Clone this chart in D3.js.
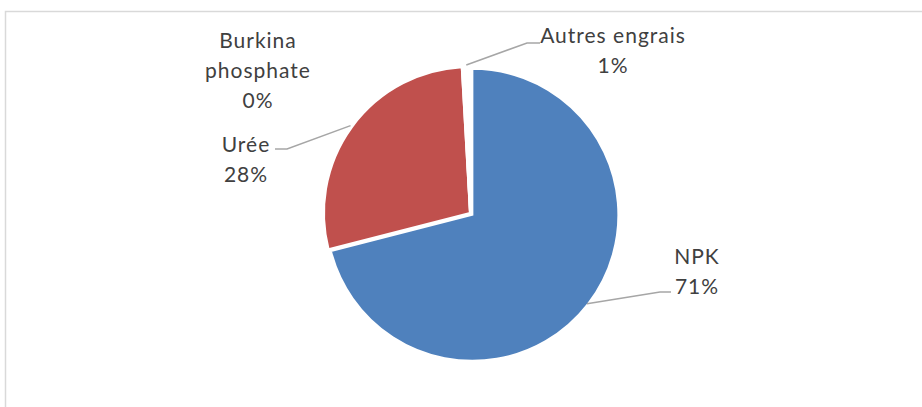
<!DOCTYPE html>
<html>
<head>
<meta charset="utf-8">
<script src="https://cdn.jsdelivr.net/npm/d3@7"></script>
<style>
  body { margin: 0; background: #fff; }
  text { font-family: Lato, "Open Sans", sans-serif; fill: #404040; }
</style>
</head>
<body>
<div id="chart"></div>
<script>
const width = 922, height = 407;

// data (shares in %)
const categories = ["NPK", "Urée", "Burkina phosphate", "Autres engrais"];
const values = [71.0, 28.1, 0.1, 0.8];
const colors = ["#4f81bd", "#c0504d", "#9bbb59", "#ffffff"];
// label text lines (name split like Excel does)
const labelLines = [["NPK"], ["Urée"], ["Burkina", "phosphate"], ["Autres engrais"]];

// where Excel put each label (centre x, first baseline) and its leader elbow
const labelLayout = [
  { x: 697, y: 264, elbow: [660, 292], end: 671 },
  { x: 246, y: 152, elbow: [287, 149], end: 275 },
  { x: 258, y: 48, elbow: null },
  { x: 613, y: 43, elbow: [527, 43], end: 540 }
];

const cx = 470, cy = 213, radius = 146;

const svg = d3.select('#chart').append("svg")
    .attr("width", width)
    .attr("height", height);

// chart area border
svg.append("rect")
    .attr("x", 5.5).attr("y", 11.5)
    .attr("width", 1000).attr("height", 1000)
    .attr("fill", "none")
    .attr("stroke", "#d9d9d9")
    .attr("stroke-width", 1.5);

const pie = d3.pie().sort(null).value(d => d.value);
const arcs = pie(categories.map((c, i) => ({ name: c, value: values[i], i: i })));

const arc = d3.arc().innerRadius(0).outerRadius(radius);
const outer = d3.arc().innerRadius(148).outerRadius(148);

const g = svg.append("g").attr("transform", "translate(" + cx + "," + cy + ")");

g.selectAll("path")
    .data(arcs)
    .enter()
    .append("path")
    .attr("d", arc)
    .attr("fill", d => colors[d.data.i])
    .attr("stroke", "#fff")
    .attr("stroke-width", 2)
    .attr("transform", function (d) {
        // NPK slice is pulled out a little
        if (d.data.i !== 0) return null;
        const mid = (d.startAngle + d.endAngle) / 2;
        return "translate(" + (3 * Math.sin(mid)) + "," + (-3 * Math.cos(mid)) + ")";
    });

// leader lines
g.selectAll("polyline")
    .data(arcs.filter(d => labelLayout[d.data.i].elbow))
    .enter()
    .append("polyline")
    .attr("fill", "none")
    .attr("stroke", "#a6a6a6")
    .attr("stroke-width", 1.5)
    .attr("points", function (d) {
        const L = labelLayout[d.data.i];
        const p = outer.centroid(d);
        return [p, [L.elbow[0] - cx, L.elbow[1] - cy], [L.end - cx, L.elbow[1] - cy]]
            .map(q => q.join(",")).join(" ");
    });

// labels
const labels = svg.selectAll("text.label")
    .data(arcs)
    .enter()
    .append("text")
    .attr("class", "label")
    .attr("text-anchor", "middle")
    .attr("font-size", "21px")
    .attr("letter-spacing", "1px");

labels.each(function (d) {
    const L = labelLayout[d.data.i];
    const lines = labelLines[d.data.i].concat([Math.round(d.data.value) + "%"]);
    d3.select(this).selectAll("tspan")
        .data(lines)
        .enter()
        .append("tspan")
        .attr("x", L.x)
        .attr("y", (t, k) => L.y + k * 30)
        .text(t => t);
});
</script>
</body>
</html>
